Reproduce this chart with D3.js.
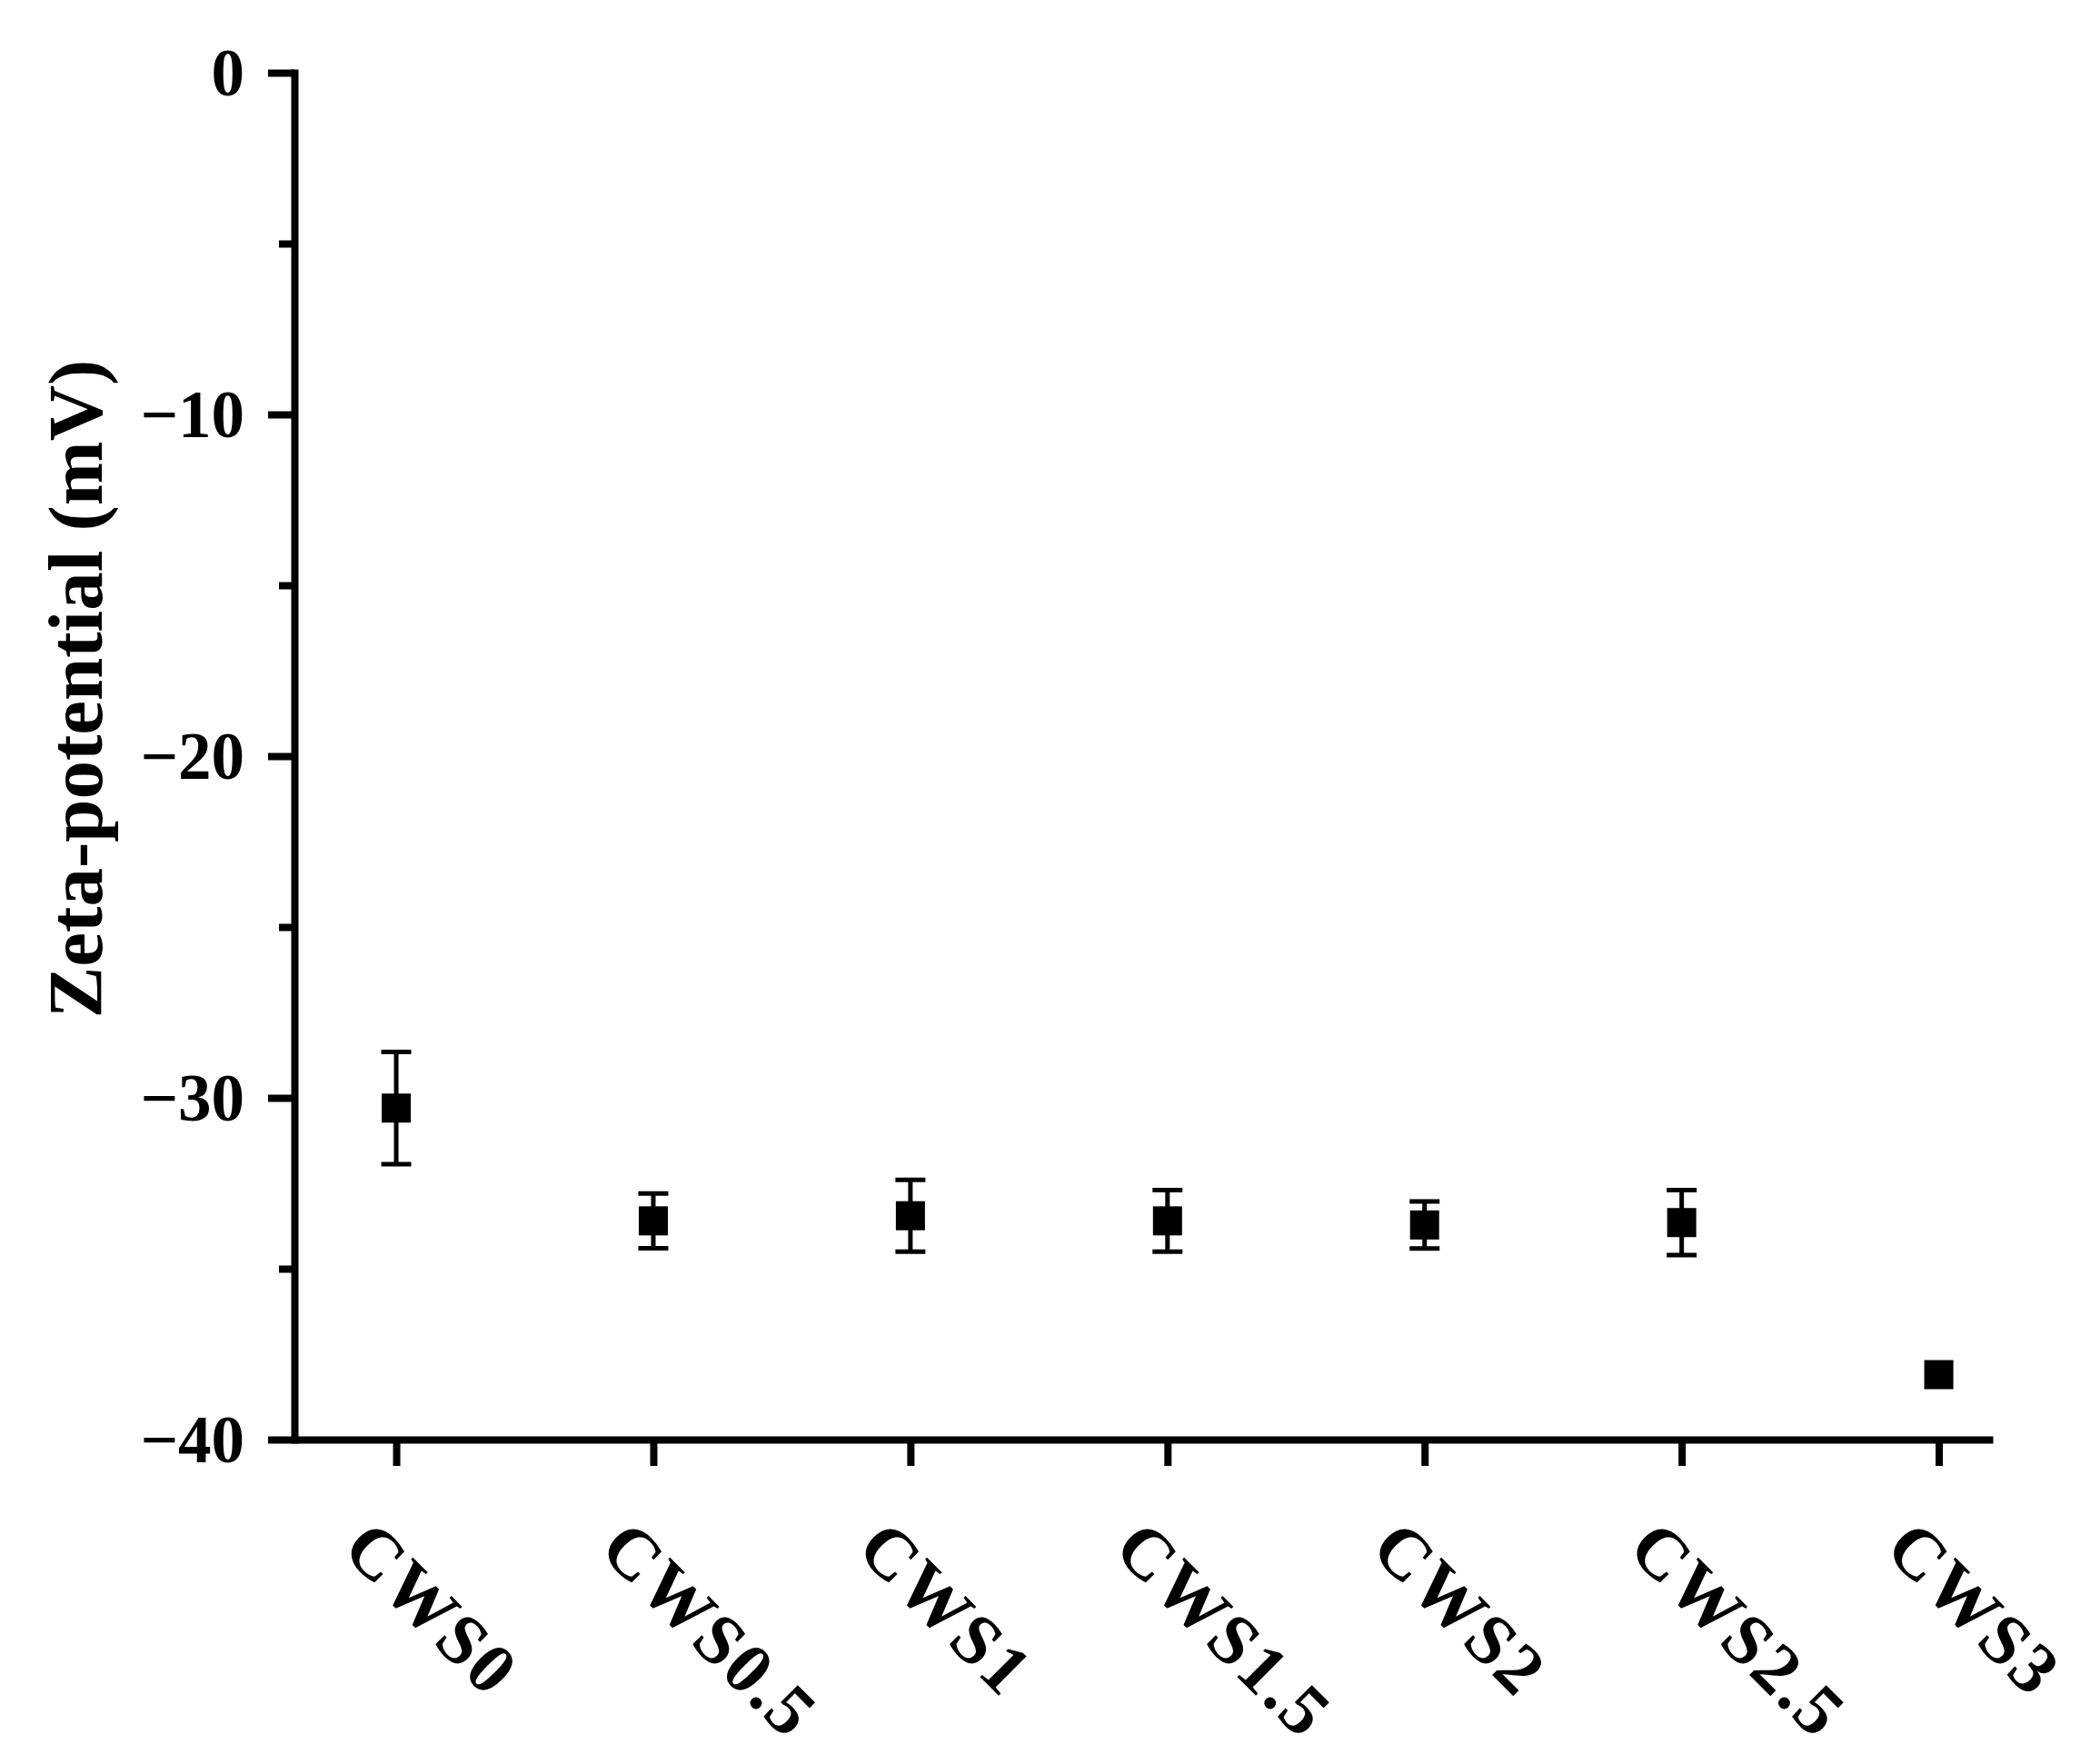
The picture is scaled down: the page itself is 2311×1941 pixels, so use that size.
<!DOCTYPE html>
<html>
<head>
<meta charset="utf-8">
<script src="https://cdn.jsdelivr.net/npm/d3@7"></script>
<style>
  html, body { margin: 0; padding: 0; background: #fff; }
  svg { display: block; }
  svg text { font-family: "Liberation Serif", "Times New Roman", Times, serif !important; font-weight: bold; }
</style>
</head>
<body>
<svg id="chart" width="2311" height="1941"></svg>
<script>
// ---- data ----
const categories = ["CWS0", "CWS0.5", "CWS1", "CWS1.5", "CWS2", "CWS2.5", "CWS3"];
const zetaMean   = [-30.3, -33.6, -33.45, -33.6, -33.72, -33.65, -38.1];
const zetaErr    = [1.64, 0.8, 1.05, 0.9, 0.69, 0.95, 0];
const yMajorTicks = [0, -10, -20, -30, -40];
const yMinorTicks = [-5, -15, -25, -35];
const yLabel = "Zeta-potential (mV)";

function draw() {
const FONT = '"Liberation Serif", "Times New Roman", Times, serif';
// ---- layout ----
const W = 2311, H = 1941;
const mLeft = 324, mRight = 2193, mTop = 80, mBottom = 1584;
const svg = d3.select("#chart");
svg.selectAll("*").remove();
svg.append("rect").attr("width", W).attr("height", H).attr("fill", "#fff");

const x = d3.scaleLinear().domain([-0.396, 6.21]).range([mLeft, mRight]);
const y = d3.scaleLinear().domain([-40, 0]).range([mBottom, mTop]);

const axisStroke = 8;

// y axis minor ticks
const yMinor = svg.append("g").attr("transform", `translate(${mLeft},0)`)
  .call(d3.axisLeft(y).tickValues(yMinorTicks).tickSize(17).tickSizeOuter(0).tickFormat(""));
yMinor.select(".domain").remove();
yMinor.selectAll("line").attr("stroke", "#000").attr("stroke-width", axisStroke);

// y axis major
const yAxis = svg.append("g").attr("transform", `translate(${mLeft},0)`)
  .call(d3.axisLeft(y).tickValues(yMajorTicks).tickSize(29).tickSizeOuter(0).tickPadding(26)
    .tickFormat(d => d === 0 ? "0" : "\u2212" + Math.abs(d)));
yAxis.attr("font-family", FONT);
yAxis.select(".domain").attr("stroke", "#000").attr("stroke-width", axisStroke).attr("stroke-linecap", "square");
yAxis.selectAll("line").attr("stroke", "#000").attr("stroke-width", axisStroke);
yAxis.selectAll("text")
  .attr("font-family", FONT).attr("font-weight", "bold").attr("fill", "#000")
  .attr("font-size", 73).attr("dy", "0.34em");

// x axis
const xAxis = svg.append("g").attr("transform", `translate(0,${mBottom})`)
  .call(d3.axisBottom(x).tickValues(d3.range(categories.length)).tickSize(29).tickSizeOuter(0)
    .tickFormat(i => categories[i]));
xAxis.attr("font-family", FONT);
xAxis.select(".domain").attr("stroke", "#000").attr("stroke-width", axisStroke);
xAxis.selectAll("line").attr("stroke", "#000").attr("stroke-width", axisStroke);
xAxis.selectAll("text")
  .attr("font-family", FONT).attr("font-weight", "bold").attr("fill", "#000")
  .attr("font-size", 79)
  .attr("letter-spacing", 3)
  .attr("text-anchor", "start")
  .attr("x", 0).attr("y", 0).attr("dy", 0)
  .attr("transform", "translate(-62,123) rotate(45)");

// y label
svg.append("text")
  .attr("transform", `translate(112,758) rotate(-90)`)
  .attr("text-anchor", "middle")
  .attr("font-family", FONT).attr("font-weight", "bold").attr("fill", "#000")
  .attr("font-size", 85)
  .text(yLabel);

// error bars & markers
const data = categories.map((c, i) => ({ i, c, m: zetaMean[i], e: zetaErr[i] }));
const capW = 33, mk = 32, ebStroke = 5;
const eb = svg.append("g").attr("stroke", "#000").attr("stroke-width", ebStroke);
data.filter(d => d.e > 0).forEach(d => {
  const cx = x(d.i);
  eb.append("line").attr("x1", cx).attr("x2", cx).attr("y1", y(d.m + d.e)).attr("y2", y(d.m - d.e));
  eb.append("line").attr("x1", cx - capW / 2).attr("x2", cx + capW / 2).attr("y1", y(d.m + d.e)).attr("y2", y(d.m + d.e));
  eb.append("line").attr("x1", cx - capW / 2).attr("x2", cx + capW / 2).attr("y1", y(d.m - d.e)).attr("y2", y(d.m - d.e));
});
svg.append("g").selectAll("rect").data(data).join("rect")
  .attr("x", d => x(d.i) - mk / 2)
  .attr("y", d => y(d.m) - mk / 2)
  .attr("width", mk).attr("height", mk)
  .attr("fill", "#000");
}
draw();
if (document.fonts && document.fonts.load) {
  document.fonts.load('bold 72px "Liberation Serif"').then(draw).catch(() => {});
}
</script>
</body>
</html>
